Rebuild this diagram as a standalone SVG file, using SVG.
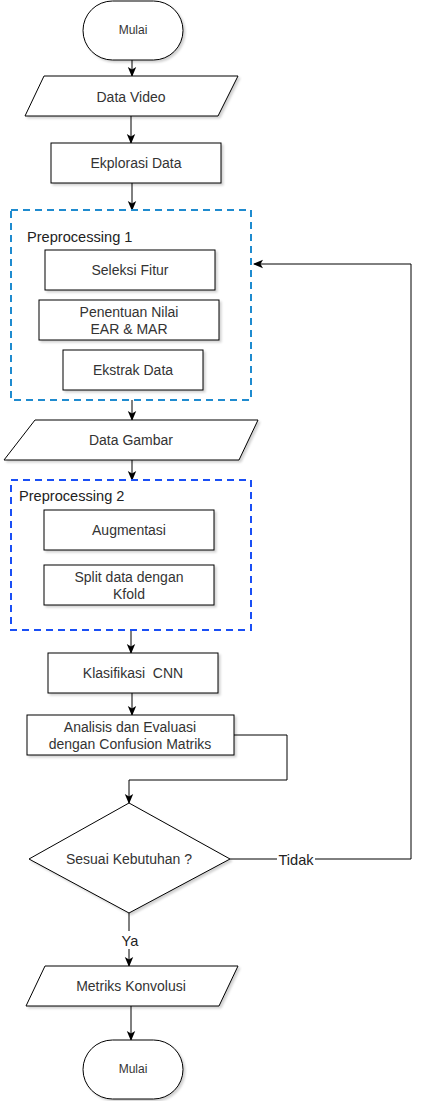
<svg xmlns="http://www.w3.org/2000/svg" width="421" height="1101" viewBox="0 0 421 1101">
<defs>
<marker id="arr" viewBox="0 0 10 10" refX="9" refY="5" markerWidth="10" markerHeight="10" markerUnits="userSpaceOnUse" orient="auto">
<path d="M0,0.8 L10,5 L0,9.2 L2.5,5 Z" fill="#000"/>
</marker>
<filter id="sh" x="-10%" y="-10%" width="130%" height="140%">
<feDropShadow dx="2" dy="2" stdDeviation="1.2" flood-color="#000" flood-opacity="0.18"/>
</filter>
<style>
.n{fill:#fff;stroke:#000;stroke-width:1;filter:url(#sh)}
.t{font-family:"Liberation Sans",Arial,sans-serif;font-size:14px;fill:#333;text-anchor:middle}
.s{font-size:12px}
.lbl{font-family:"Liberation Sans",Arial,sans-serif;font-size:14.6px;fill:#222}
.c{fill:none;stroke:#000;stroke-width:1}
.a{marker-end:url(#arr)}
.g1{fill:none;stroke:#1f8bcf;stroke-width:2;stroke-dasharray:7 5}
.g2{fill:none;stroke:#1a4ff5;stroke-width:2;stroke-dasharray:7 5}
</style>
</defs>
<g id="connectors">
<line class="c a" x1="132" y1="60" x2="132" y2="76"/>
<line class="c a" x1="131" y1="116" x2="131" y2="143"/>
<line class="c a" x1="132" y1="183" x2="132" y2="210"/>
<line class="c a" x1="132" y1="400" x2="132" y2="420"/>
<line class="c a" x1="132" y1="460" x2="132" y2="480"/>
<line class="c a" x1="131" y1="630" x2="131" y2="653"/>
<line class="c a" x1="132" y1="693" x2="132" y2="715"/>
<polyline class="c a" points="234,735 287,735 287,780 129,780 129,803"/>
<polyline class="c a" points="230,859 411,859 411,264 254,264"/>
<rect x="277" y="850" width="38" height="18" fill="#fff"/>
<text class="lbl" x="296" y="864.5" text-anchor="middle">Tidak</text>
<line class="c a" x1="129" y1="913" x2="129" y2="966"/>
<rect x="118" y="931" width="24" height="18" fill="#fff"/>
<text class="lbl" x="130" y="945.5" text-anchor="middle">Ya</text>
<line class="c a" x1="131" y1="1006" x2="131" y2="1040"/>
</g>
<g id="mulai-start">
<rect class="n" x="83" y="1" width="100" height="59" rx="29.5" ry="29.5"/>
<text class="t s" x="133" y="34">Mulai</text>
</g>
<g id="data-video">
<polygon class="n" points="44,76 238,76 218,116 25,116"/>
<text class="t" x="131" y="102">Data Video</text>
</g>
<g id="ekplorasi-data">
<rect class="n" x="51" y="143" width="170" height="40"/>
<text class="t" x="136" y="168">Ekplorasi Data</text>
</g>
<g id="preprocessing-1">
<rect class="g1" x="11" y="210" width="240" height="190"/>
<text class="lbl" x="27" y="242">Preprocessing 1</text>
</g>
<g id="seleksi-fitur">
<rect class="n" x="45" y="250" width="170" height="40"/>
<text class="t" x="130" y="275">Seleksi Fitur</text>
</g>
<g id="penentuan-nilai">
<rect class="n" x="39" y="300" width="180" height="40"/>
<text class="t" x="129" y="317">Penentuan Nilai</text>
<text class="t" x="129" y="334">EAR &amp; MAR</text>
</g>
<g id="ekstrak-data">
<rect class="n" x="63" y="350" width="140" height="40"/>
<text class="t" x="133" y="375">Ekstrak Data</text>
</g>
<g id="data-gambar">
<polygon class="n" points="35,420 258,420 239,460 4,460"/>
<text class="t" x="131" y="445">Data Gambar</text>
</g>
<g id="preprocessing-2">
<rect class="g2" x="11" y="480" width="240" height="150"/>
<text class="lbl" x="19" y="501">Preprocessing 2</text>
</g>
<g id="augmentasi">
<rect class="n" x="44" y="510" width="170" height="40"/>
<text class="t" x="129" y="535">Augmentasi</text>
</g>
<g id="split-data">
<rect class="n" x="44" y="565" width="170" height="40"/>
<text class="t" x="129" y="582">Split data dengan</text>
<text class="t" x="129" y="599">Kfold</text>
</g>
<g id="klasifikasi-cnn">
<rect class="n" x="48" y="653" width="170" height="40"/>
<text class="t" x="133" y="678" xml:space="preserve" style="white-space:pre">Klasifikasi  CNN</text>
</g>
<g id="analisis">
<rect class="n" x="27" y="715" width="207" height="40"/>
<text class="t" x="130" y="732">Analisis dan Evaluasi</text>
<text class="t" x="130" y="749">dengan Confusion Matriks</text>
</g>
<g id="sesuai-kebutuhan">
<polygon class="n" points="129,803 230,859 129,913 29,859"/>
<text class="t" x="129" y="864">Sesuai Kebutuhan ?</text>
</g>
<g id="metriks-konvolusi">
<polygon class="n" points="45,966 238,966 219,1006 26,1006"/>
<text class="t" x="131" y="991">Metriks Konvolusi</text>
</g>
<g id="mulai-end">
<rect class="n" x="83" y="1040" width="100" height="59" rx="29.5" ry="29.5"/>
<text class="t s" x="133" y="1073">Mulai</text>
</g>
</svg>
